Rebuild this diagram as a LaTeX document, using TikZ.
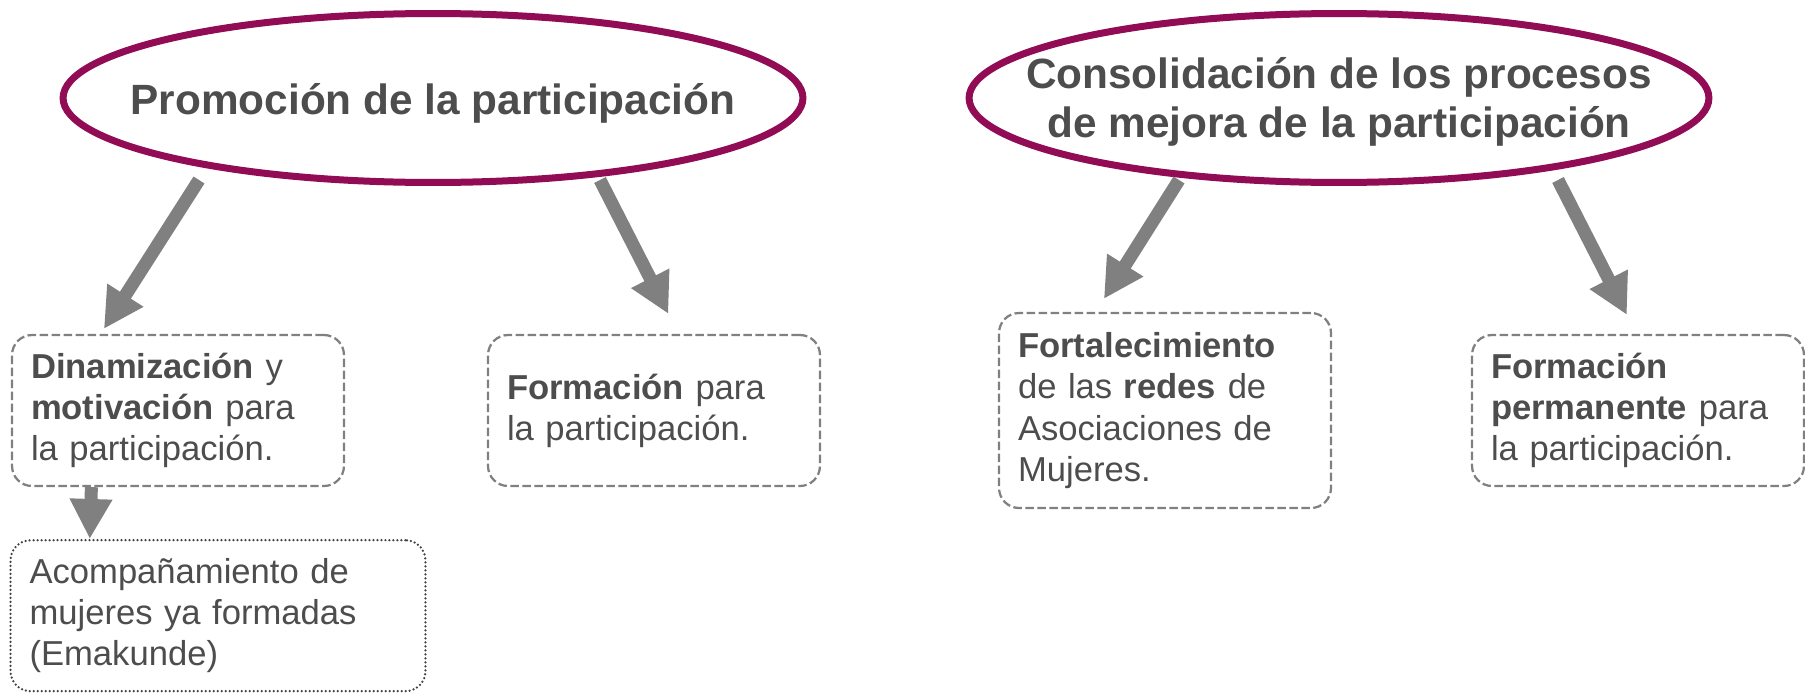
\documentclass[tikz,border=0pt]{standalone}
\usepackage{fontspec}
\setmainfont{Liberation Sans}
\usetikzlibrary{shapes.geometric,arrows.meta}
\definecolor{morado}{RGB}{145,12,84}
\definecolor{textgris}{RGB}{77,77,77}
\definecolor{flechagris}{RGB}{128,128,128}
\definecolor{bordegris}{RGB}{128,128,128}
\definecolor{puntogris}{RGB}{64,64,64}
\begin{document}
\begin{tikzpicture}
  [x=0.02cm,y=-0.02cm,
   meta/.style={ellipse,draw=morado,line width=0.14cm,minimum width=14.8cm,minimum height=3.38cm,
     inner sep=0pt,text=textgris,font=\fontsize{24.1}{28.3}\selectfont\bfseries},
   caja/.style={rectangle,rounded corners=0.4cm,draw=bordegris,line width=0.045cm,
     dash pattern=on 0.17cm off 0.07cm,text=textgris,align=left,inner xsep=0.38cm,inner ysep=0pt,
     text width=5.88cm,minimum height=3.02cm,font=\fontsize{19.7}{23.4}\selectfont},
   flecha/.style={draw=flechagris,line width=0.26cm,-{Triangle[length=0.8cm,width=0.8cm]}}]
  \useasboundingbox (0,0) rectangle (1805,693);

  \node[meta] (promo) at (433,98) {\raisebox{-0.1cm}[\height][\depth]{\makebox[0pt]{Promoción de la participación}}};
  \node[meta] (conso) at (1339,98) {\raisebox{-0.1cm}[\height][\depth]{\makebox[0pt]{\begin{tabular}{@{}c@{}}Consolidación de los procesos\\de mejora de la participación\end{tabular}}}};

  \node[caja] (dinam) at (178,410.5) {\textbf{Dinamización} y\\\textbf{motivación} para\\la participación.};
  \node[caja] (form) at (654,410.5) {\textbf{Formación} para\\la participación.};
  \node[caja,minimum height=3.9cm] (fort) at (1165,410.5) {\textbf{Fortalecimiento}\\de las \textbf{redes} de\\Asociaciones de\\Mujeres.};
  \node[caja] (perm) at (1638,410.5) {\textbf{Formación}\\\textbf{permanente} para\\la participación.};
  \node[caja,text width=7.54cm,line width=0.05cm,dash pattern=on 0pt off 0.08cm,line cap=round,draw=puntogris] (acomp) at (218,615.7)
    {Acompañamiento de\\mujeres ya formadas\\(Emakunde)};

  \coordinate (ta) at (199,180);
  \coordinate (tb) at (600,180);
  \coordinate (tc) at (1179,180);
  \coordinate (td) at (1558,180);

  \foreach \from/\to/\dx/\dy in {ta/dinam/1.86/0.10,tb/form/3.63/0.40,tc/fort/2.12/0.26,td/perm/3.12/0.38}
    \draw[flecha] (\from) -- ([shift={(\dx cm,\dy cm)}]\to.north west);

  \draw[flecha] ([xshift=1.61cm]dinam.south west) -- ([xshift=1.61cm]acomp.north west);

\end{tikzpicture}
\end{document}
